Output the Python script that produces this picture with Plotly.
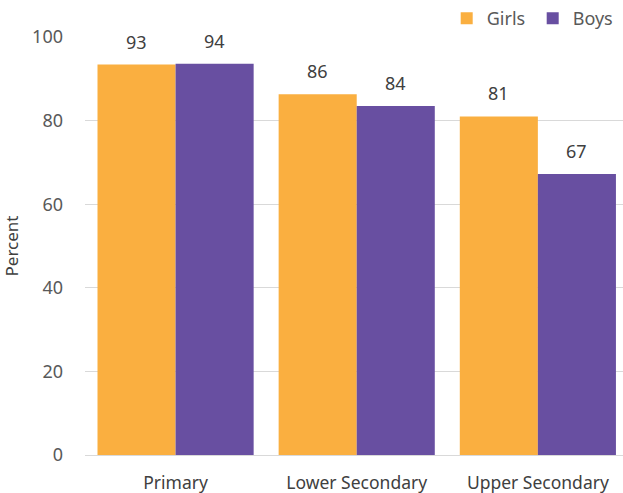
import plotly.graph_objects as go

categories = ["Primary", "Lower Secondary", "Upper Secondary"]
girls = [93.4, 86.3, 81.0]
boys = [93.6, 83.5, 67.2]
girls_labels = ["93", "86", "81"]
boys_labels = ["94", "84", "67"]
y_ticks = [0, 20, 40, 60, 80, 100]

ORANGE = "#FAAF40"
PURPLE = "#684FA1"
FONT = "Noto Sans"

fig = go.Figure()
fig.add_trace(go.Bar(x=categories, y=girls, name="Girls", marker_color=ORANGE,
                     marker_line_width=0, offsetgroup="g"))
fig.add_trace(go.Bar(x=categories, y=boys, name="Boys", marker_color=PURPLE,
                     marker_line_width=0, offsetgroup="b"))

annotations = []
for cat, v, t in zip(categories, girls, girls_labels):
    annotations.append(dict(x=cat, y=v, text=t, showarrow=False, xshift=-39, yshift=23,
                            font=dict(family=FONT, size=18, color="#404040")))
for cat, v, t in zip(categories, boys, boys_labels):
    annotations.append(dict(x=cat, y=v, text=t, showarrow=False, xshift=39, yshift=23,
                            font=dict(family=FONT, size=18, color="#404040")))

fig.update_layout(
    width=623, height=493,
    margin=dict(l=85, r=0, t=37, b=38, autoexpand=False),
    plot_bgcolor="white", paper_bgcolor="white",
    barmode="group", bargap=0.138, bargroupgap=0,
    font=dict(family=FONT, size=17, color="#595959"),
    annotations=annotations,
    legend=dict(orientation="h", x=0.992, xanchor="right", y=1.0, yanchor="bottom",
                font=dict(family=FONT, size=18, color="#595959"),
                itemwidth=30, entrywidth=41, entrywidthmode="pixels",
                traceorder="normal"),
    xaxis=dict(range=[-0.5, 2.47], showline=True, linecolor="#D9D9D9", linewidth=1,
               ticks="", ticklabelstandoff=12, tickangle=0, automargin=False,
               tickfont=dict(family=FONT, size=17.5, color="#404040")),
    yaxis=dict(range=[0, 100], tickvals=y_ticks, showgrid=True, gridcolor="#D9D9D9",
               gridwidth=1, zeroline=False, showline=False, ticks="",
               ticklabelstandoff=21, automargin=False,
               tickfont=dict(family=FONT, size=18, color="#595959"),
               title=dict(text="Percent", standoff=10,
                          font=dict(family=FONT, size=17, color="#404040"))),
)

fig.write_html("out.html")
